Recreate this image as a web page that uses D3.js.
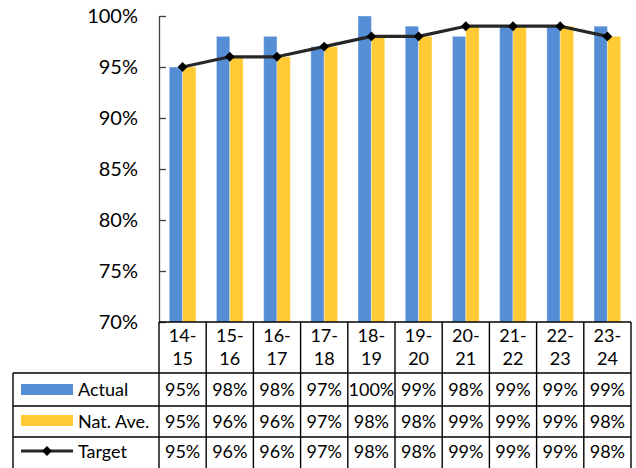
<!DOCTYPE html>
<html>
<head>
<meta charset="utf-8">
<script src="https://cdn.jsdelivr.net/npm/d3@7"></script>
<style>
  html, body { margin: 0; padding: 0; background: #fff; }
  svg { display: block; font-family: Lato, "Open Sans", sans-serif; }
</style>
</head>
<body>
<svg id="chart" width="636" height="468"></svg>
<script>
const categories = ["14-15", "15-16", "16-17", "17-18", "18-19", "19-20", "20-21", "21-22", "22-23", "23-24"];
const actual = [0.95, 0.98, 0.98, 0.97, 1.00, 0.99, 0.98, 0.99, 0.99, 0.99];
const natAve = [0.95, 0.96, 0.96, 0.97, 0.98, 0.98, 0.99, 0.99, 0.99, 0.98];
const target = [0.95, 0.96, 0.96, 0.97, 0.98, 0.98, 0.99, 0.99, 0.99, 0.98];
const actualLabels = ["95%", "98%", "98%", "97%", "100%", "99%", "98%", "99%", "99%", "99%"];
const natAveLabels = ["95%", "96%", "96%", "97%", "98%", "98%", "99%", "99%", "99%", "98%"];
const targetLabels = ["95%", "96%", "96%", "97%", "98%", "98%", "99%", "99%", "99%", "98%"];
const yTicks = [0.70, 0.75, 0.80, 0.85, 0.90, 0.95, 1.00];
const seriesNames = ["Actual", "Nat. Ave.", "Target"];

const colors = { actual: "#558ed5", natAve: "#ffca33", target: "#262626" };

const svg = d3.select("#chart");
const plotLeft = 159, plotRight = 631, plotTop = 16, plotBottom = 322;
const tableLeft = 13;
const rowEdges = [322, 373, 406, 437, 470];

const x = d3.scaleBand().domain(categories).range([plotLeft, plotRight])
  .paddingInner(0.434).paddingOuter(0.217);
const step = x.step();
const xs = d3.scaleBand().domain(["actual", "natAve"]).range([0, x.bandwidth()]);
const y = d3.scaleLinear().domain([0.70, 1.00]).range([plotBottom, plotTop]);

// bars
const barSeries = [
  { key: "actual", values: actual },
  { key: "natAve", values: natAve }
];
barSeries.forEach(s => {
  svg.append("g").selectAll("rect").data(s.values).join("rect")
    .attr("x", (d, i) => x(categories[i]) + xs(s.key))
    .attr("y", d => y(d))
    .attr("width", xs.bandwidth())
    .attr("height", d => y(0.70) - y(d))
    .attr("fill", colors[s.key])
    .attr("stroke", "rgba(255,255,255,0.35)")
    .attr("stroke-width", 1);
});

// y axis
const yAxis = d3.axisLeft(y).tickValues(yTicks).tickFormat(d3.format(".0%"))
  .tickSizeInner(-7).tickSizeOuter(0).tickPadding(21);
const gy = svg.append("g").attr("transform", `translate(${plotLeft},0)`).call(yAxis);
gy.select(".domain").attr("stroke", "#404040").attr("stroke-width", 1.3);
gy.selectAll(".tick line").attr("stroke", "#404040").attr("stroke-width", 1.3);
gy.selectAll(".tick text").attr("font-size", 20).attr("fill", "#000")
  .attr("font-family", "Lato, sans-serif");

// target line
const cx = c => x(c) + x.bandwidth() / 2;
const line = d3.line().x((d, i) => cx(categories[i])).y(d => y(d));
svg.append("path").datum(target).attr("d", line)
  .attr("fill", "none").attr("stroke", colors.target).attr("stroke-width", 3.2)
  .attr("stroke-linejoin", "round");
const diamond = d3.symbol().type(d3.symbolDiamond2).size(62);
svg.append("g").selectAll("path").data(target).join("path")
  .attr("transform", (d, i) => `translate(${cx(categories[i])},${y(d)})`)
  .attr("d", diamond).attr("fill", "#000");

// data table
const table = svg.append("g").attr("font-family", "Lato, sans-serif").attr("font-size", 18).attr("fill", "#000");
const bandLeft = c => x(c) - (step - x.bandwidth()) / 2;
const colCenter = c => bandLeft(c) + step / 2;

const gridStroke = "#000";
// horizontal lines
table.append("line").attr("x1", plotLeft).attr("x2", plotRight).attr("y1", rowEdges[0]).attr("y2", rowEdges[0])
  .attr("stroke", gridStroke).attr("stroke-width", 1.4);
rowEdges.slice(1, 4).forEach(yy => {
  table.append("line").attr("x1", tableLeft).attr("x2", plotRight).attr("y1", yy).attr("y2", yy)
    .attr("stroke", gridStroke).attr("stroke-width", 1.4);
});
// vertical lines in category columns
const vx = categories.map(c => bandLeft(c)).concat([plotRight]);
vx.forEach(xx => {
  table.append("line").attr("x1", xx).attr("x2", xx).attr("y1", rowEdges[0]).attr("y2", rowEdges[4])
    .attr("stroke", gridStroke).attr("stroke-width", 1.4);
});
table.append("line").attr("x1", tableLeft).attr("x2", tableLeft).attr("y1", rowEdges[1]).attr("y2", rowEdges[4])
  .attr("stroke", gridStroke).attr("stroke-width", 1.4);

// category header labels (two lines)
categories.forEach(c => {
  const parts = c.split("-");
  const t = table.append("text").attr("text-anchor", "middle").attr("font-size", 18);
  t.append("tspan").attr("x", colCenter(c)).attr("y", 342).text(parts[0] + "-");
  t.append("tspan").attr("x", colCenter(c)).attr("y", 365).text(parts[1]);
});

// value rows
const rows = [actualLabels, natAveLabels, targetLabels];
const baselines = [396, 428, 458];
rows.forEach((labels, r) => {
  table.append("g").selectAll("text").data(labels).join("text")
    .attr("x", (d, i) => colCenter(categories[i]))
    .attr("y", baselines[r])
    .attr("text-anchor", "middle")
    .text(d => d);
});

// legend keys
const legendKeyX1 = 21, legendKeyX2 = 73, legendTextX = 78;
table.append("rect").attr("x", legendKeyX1).attr("y", 384).attr("width", legendKeyX2 - legendKeyX1).attr("height", 11)
  .attr("fill", colors.actual);
table.append("rect").attr("x", legendKeyX1).attr("y", 415).attr("width", legendKeyX2 - legendKeyX1).attr("height", 11)
  .attr("fill", colors.natAve);
table.append("line").attr("x1", legendKeyX1).attr("x2", legendKeyX2).attr("y1", 451).attr("y2", 451)
  .attr("stroke", colors.target).attr("stroke-width", 3.2);
table.append("path").attr("transform", `translate(${(legendKeyX1 + legendKeyX2) / 2},451)`)
  .attr("d", diamond).attr("fill", "#000");
seriesNames.forEach((n, r) => {
  table.append("text").attr("x", legendTextX).attr("y", baselines[r]).text(n);
});
</script>
</body>
</html>
